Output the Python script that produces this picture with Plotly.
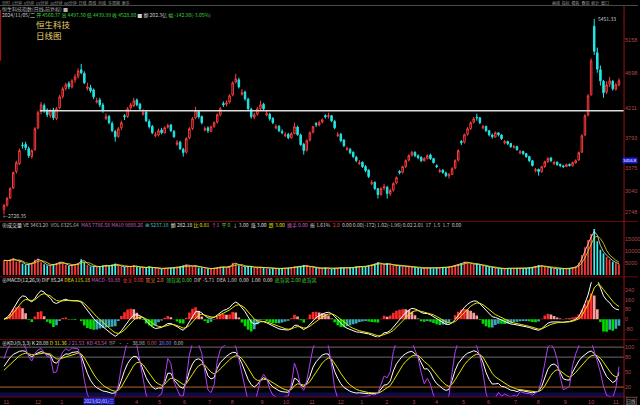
import plotly.graph_objects as go

# ---------------- data (~2.5 trading days per bar) ----------------
opens = [2790, 2850, 2950, 3090, 3320, 3430, 3690, 3700, 3640, 3530,
         3625, 3930, 4160, 4240, 4180, 4100, 4180, 4060, 4210, 4370,
         4480, 4550, 4500, 4600, 4650, 4740, 4690, 4480, 4490, 4460,
         4290, 4320, 4250, 4060, 4090, 3990, 3880, 3810, 3930, 4100,
         4090, 4210, 4240, 4320, 4260, 4120, 4150, 4020, 3950, 3820,
         3830, 3900, 3860, 3940, 3970, 3880, 3700, 3730, 3630, 3590,
         3790, 3920, 4070, 4160, 4090, 3900, 3930, 3880, 3950, 4010,
         4110, 4270, 4260, 4290, 4390, 4570, 4600, 4400, 4430, 4330,
         4190, 4080, 4120, 4200, 4260, 4110, 4120, 4060, 3930, 3950,
         3880, 3820, 3840, 3790, 3850, 3940, 3830, 3700, 3620, 3760,
         3870, 3990, 3970, 4010, 4100, 4090, 4100, 4020, 3820, 3840,
         3760, 3630, 3630, 3590, 3520, 3430, 3450, 3390, 3340, 3150,
         3170, 3080, 3000, 3090, 3100, 3010, 3060, 3160, 3320, 3310,
         3390, 3480, 3550, 3590, 3540, 3520, 3470, 3500, 3550, 3500,
         3400, 3320, 3340, 3300, 3260, 3280, 3370, 3480, 3740, 3730,
         3840, 3920, 4010, 4080, 4070, 3930, 3950, 3890, 3830, 3800,
         3860, 3830, 3720, 3740, 3710, 3660, 3670, 3580, 3600, 3570,
         3530, 3470, 3330, 3350, 3320, 3390, 3460, 3510, 3430, 3450,
         3420, 3400, 3390, 3420, 3400, 3440, 3480, 3590, 3830, 4110,
         4390, 5350, 4980, 4740, 4580, 4430, 4540, 4580, 4470, 4530]

highs = [2868, 2965, 3100, 3320, 3470, 3640, 3730, 3735, 3670, 3630,
         3940, 4170, 4290, 4270, 4200, 4190, 4210, 4220, 4390, 4500,
         4560, 4580, 4610, 4680, 4760, 4823, 4720, 4560, 4530, 4480,
         4350, 4350, 4280, 4130, 4110, 4020, 3900, 3940, 4030, 4120,
         4220, 4280, 4350, 4340, 4280, 4190, 4170, 4050, 3970, 3870,
         3920, 3930, 3950, 3990, 3985, 3900, 3760, 3750, 3650, 3800,
         3940, 4080, 4224, 4180, 4100, 3950, 3950, 3960, 4020, 4130,
         4220, 4300, 4310, 4400, 4580, 4684, 4630, 4470, 4450, 4350,
         4210, 4140, 4220, 4308, 4280, 4170, 4140, 4080, 3980, 3970,
         3910, 3870, 3860, 3870, 4002, 3960, 3850, 3720, 3770, 3880,
         3960, 4010, 4030, 4060, 4120, 4141, 4110, 4040, 3870, 3860,
         3770, 3670, 3650, 3600, 3540, 3480, 3460, 3410, 3350, 3200,
         3180, 3090, 3100, 3150, 3120, 3080, 3170, 3250, 3340, 3400,
         3490, 3560, 3610, 3600, 3560, 3530, 3520, 3560, 3570, 3510,
         3420, 3360, 3350, 3320, 3300, 3380, 3490, 3630, 3760, 3850,
         3940, 4020, 4080, 4127, 4080, 3970, 3960, 3900, 3850, 3880,
         3870, 3840, 3760, 3750, 3720, 3690, 3680, 3620, 3610, 3580,
         3540, 3480, 3370, 3360, 3400, 3470, 3520, 3520, 3470, 3460,
         3430, 3410, 3430, 3430, 3460, 3490, 3600, 3840, 4120, 4400,
         4900, 5451.33, 5050, 4800, 4600, 4580, 4640, 4600, 4560, 4620]

lows = [2720.35, 2830, 2935, 3075, 3290, 3410, 3640, 3620, 3510, 3500,
        3610, 3910, 4120, 4140, 4080, 4070, 4040, 4040, 4190, 4340,
        4450, 4470, 4480, 4560, 4620, 4680, 4540, 4450, 4420, 4330,
        4270, 4220, 4140, 4040, 3980, 3870, 3737, 3790, 3900, 4040,
        4070, 4180, 4220, 4230, 4170, 4100, 4010, 3920, 3840, 3800,
        3810, 3840, 3850, 3920, 3870, 3790, 3680, 3620, 3528, 3570,
        3770, 3900, 4050, 4060, 3980, 3880, 3860, 3870, 3930, 3990,
        4090, 4220, 4230, 4270, 4370, 4550, 4480, 4380, 4310, 4170,
        4060, 4050, 4100, 4180, 4170, 4090, 4030, 3980, 3910, 3870,
        3840, 3800, 3770, 3780, 3840, 3820, 3680, 3556, 3600, 3740,
        3850, 3940, 3950, 3990, 4060, 4060, 4010, 3910, 3800, 3730,
        3660, 3610, 3560, 3510, 3450, 3410, 3370, 3310, 3230, 3130,
        3060, 2943, 2980, 3060, 2943, 2980, 3040, 3140, 3280, 3290,
        3370, 3460, 3530, 3520, 3490, 3450, 3460, 3490, 3480, 3430,
        3370, 3300, 3290, 3240, 3222, 3270, 3350, 3460, 3690, 3710,
        3820, 3900, 3990, 4030, 3980, 3910, 3870, 3810, 3780, 3790,
        3810, 3760, 3700, 3690, 3650, 3640, 3610, 3560, 3550, 3510,
        3450, 3390, 3310, 3263, 3300, 3370, 3440, 3450, 3410, 3400,
        3380, 3370, 3380, 3390, 3390, 3430, 3470, 3580, 3820, 4090,
        4380, 4950, 4700, 4520, 4350, 4400, 4500, 4450, 4450, 4510]

closes = [2845, 2943, 3082, 3305, 3444, 3612, 3681, 3653, 3542, 3612,
          3918, 4141, 4252, 4169, 4113, 4169, 4071, 4197, 4364, 4475,
          4531, 4503, 4587, 4642, 4726, 4698, 4559, 4503, 4447, 4364,
          4308, 4252, 4169, 4085, 4002, 3890, 3806, 3918, 4002, 4085,
          4197, 4252, 4308, 4252, 4197, 4141, 4029, 3946, 3862, 3834,
          3890, 3862, 3932, 3960, 3890, 3806, 3723, 3639, 3584, 3779,
          3918, 4057, 4169, 4085, 4002, 3918, 3890, 3946, 4002, 4113,
          4197, 4252, 4280, 4378, 4559, 4614, 4503, 4420, 4336, 4197,
          4085, 4113, 4197, 4252, 4197, 4127, 4057, 4002, 3946, 3890,
          3862, 3834, 3793, 3848, 3946, 3834, 3695, 3612, 3751, 3862,
          3946, 3974, 4002, 4043, 4085, 4099, 4029, 3932, 3834, 3751,
          3681, 3639, 3584, 3528, 3472, 3444, 3388, 3333, 3249, 3166,
          3082, 2999, 3082, 3110, 3013, 3054, 3152, 3235, 3305, 3388,
          3472, 3542, 3584, 3542, 3514, 3472, 3500, 3542, 3500, 3444,
          3388, 3333, 3305, 3263, 3277, 3360, 3472, 3612, 3723, 3834,
          3918, 4002, 4057, 4071, 4002, 3946, 3890, 3834, 3806, 3862,
          3834, 3779, 3737, 3709, 3667, 3667, 3625, 3598, 3570, 3528,
          3472, 3403, 3347, 3319, 3388, 3458, 3500, 3472, 3444, 3416,
          3403, 3388, 3416, 3403, 3444, 3472, 3584, 3820, 4099, 4378,
          4865, 5000, 4750, 4587, 4420, 4531, 4587, 4475, 4531, 4587]

volumes = [6200, 5800, 6500, 7000, 5600, 6000, 4800, 4200, 4600, 5200,
           6400, 6800, 5400, 4600, 4000, 4200, 4400, 5000, 5600, 5200,
           4400, 3800, 4200, 4600, 5000, 6600, 5400, 4200, 3600, 3800,
           3400, 3600, 4000, 4200, 3800, 4400, 4800, 4000, 3600, 3400,
           3800, 3600, 4200, 3400, 3200, 3000, 3400, 3600, 3200, 3000,
           2800, 2600, 3000, 2800, 3000, 3200, 3400, 3600, 4000, 4400,
           3800, 3600, 4000, 3200, 3000, 2800, 2600, 2800, 3000, 3200,
           3600, 3400, 3000, 3800, 5200, 4800, 4000, 3600, 3400, 3800,
           3600, 3000, 3200, 3400, 3000, 2800, 2600, 2800, 2600, 2800,
           3000, 2800, 3000, 3200, 3600, 3400, 3800, 4200, 3800, 3400,
           3200, 3000, 2800, 3000, 3200, 2800, 2600, 2800, 3000, 3200,
           3000, 2800, 3000, 3400, 3600, 3800, 3400, 3600, 4000, 4400,
           4800, 5400, 4600, 4200, 5000, 4400, 4000, 4200, 3800, 3600,
           3400, 3600, 3400, 3200, 3000, 2800, 3000, 3200, 3000, 2800,
           3000, 3200, 3400, 3200, 3600, 3800, 4200, 4600, 5000, 5600,
           5200, 4800, 4400, 4800, 4200, 3800, 3600, 3400, 3200, 3000,
           2800, 2600, 2800, 3000, 2800, 2600, 2800, 3000, 2800, 3000,
           3200, 3400, 3800, 4200, 3800, 3400, 3200, 3000, 2800, 2600,
           2800, 2600, 2800, 3000, 3200, 3600, 5200, 8400, 11500, 14500,
           17000, 19000, 14000, 10500, 9000, 7500, 6500, 5600, 5000, 4600]

month_pos = [0.8, 11, 18.7, 42.9, 50.3, 58.4, 66.5, 73.9, 83.5, 91.3, 99.7, 109,
             115.8, 123.9, 132.6, 140, 148.7, 156.8, 165.5, 172.9, 181.6, 190, 198]
month_labels = ["11", "12", "1", "4", "5", "6", "7", "8", "9", "10", "11", "12",
                "1", "2", "3", "4", "5", "6", "7", "8", "9", "10", "11"]
price_ticks = [5158, 4698, 4211, 3793, 3375, 3040, 2748]
vol_ticks = [5000, 10000, 15000]
macd_ticks = [320, 240, 160, 80, 0, -80]
kdj_ticks = [100, 80, 50, 20]
hline_price = 4169

# ---------------- derived indicators ----------------
n = len(closes)
xs = list(range(n))
highs = [max(h, o, c) for h, o, c in zip(highs, opens, closes)]
lows = [min(l, o, c) for l, o, c in zip(lows, opens, closes)]


def ema(seq, p):
    a = 2.0 / (p + 1)
    out, prev = [], seq[0]
    for v in seq:
        prev = a * v + (1 - a) * prev
        out.append(prev)
    return out


def sma(seq, p):
    out = []
    for i in range(len(seq)):
        w = seq[max(0, i - p + 1):i + 1]
        out.append(sum(w) / len(w))
    return out


dif = [a - b for a, b in zip(ema(closes, 5), ema(closes, 10))]
dea = ema(dif, 4)
macd = [2 * (a - b) for a, b in zip(dif, dea)]
macd_col = []
for i, m in enumerate(macd):
    prev = macd[i - 1] if i else 0
    if m >= 0:
        macd_col.append('#ff2a2a' if m >= prev else '#ff9c9c')
    else:
        macd_col.append('#00dd00' if m <= prev else '#3aa8b4')

K, D, J = [], [], []
k = d = 50.0
for i in range(n):
    hh = max(highs[max(0, i - 5):i + 1])
    ll = min(lows[max(0, i - 5):i + 1])
    rsv = (closes[i] - ll) / (hh - ll) * 100 if hh > ll else 50
    k = (rsv + 2 * k) / 3
    d = (k + 2 * d) / 3
    K.append(k); D.append(d); J.append(3 * k - 2 * d)

vol_col = ['#ff3c3c' if c >= o else '#3cf0f0' for o, c in zip(opens, closes)]
vma1 = sma(volumes, 2)
vma2 = sma(volumes, 4)

# ---------------- figure ----------------
W, H = 640, 405


def py(y):
    return 1 - y / H


fig = go.Figure()
fig.add_trace(go.Candlestick(
    x=xs, open=opens, high=highs, low=lows, close=closes, xaxis='x', yaxis='y',
    increasing=dict(line=dict(color='#ff3c3c', width=1), fillcolor='#000000'),
    decreasing=dict(line=dict(color='#22e6e6', width=1), fillcolor='#22e6e6'),
    whiskerwidth=0, hoverinfo='skip'))
fig.add_trace(go.Bar(x=xs, y=volumes, marker=dict(color=vol_col, line=dict(width=0)),
                     width=0.55, xaxis='x', yaxis='y2', hoverinfo='skip'))
fig.add_trace(go.Scatter(x=xs, y=vma1, mode='lines', line=dict(color='#e8e8e8', width=0.8),
                         xaxis='x', yaxis='y2', hoverinfo='skip'))
fig.add_trace(go.Scatter(x=xs, y=vma2, mode='lines', line=dict(color='#e8e800', width=0.8),
                         xaxis='x', yaxis='y2', hoverinfo='skip'))
fig.add_trace(go.Bar(x=xs, y=macd, marker=dict(color=macd_col, line=dict(width=0)),
                     width=0.85, xaxis='x', yaxis='y3', hoverinfo='skip'))
fig.add_trace(go.Scatter(x=xs, y=dif, mode='lines', line=dict(color='#ffffff', width=1),
                         xaxis='x', yaxis='y3', hoverinfo='skip'))
fig.add_trace(go.Scatter(x=xs, y=dea, mode='lines', line=dict(color='#e6e600', width=1),
                         xaxis='x', yaxis='y3', hoverinfo='skip'))
fig.add_trace(go.Scatter(x=xs, y=K, mode='lines', line=dict(color='#ffffff', width=1),
                         xaxis='x', yaxis='y4', hoverinfo='skip'))
fig.add_trace(go.Scatter(x=xs, y=D, mode='lines', line=dict(color='#e6e600', width=1),
                         xaxis='x', yaxis='y4', hoverinfo='skip'))
fig.add_trace(go.Scatter(x=xs, y=J, mode='lines', line=dict(color='#b040f0', width=1),
                         xaxis='x', yaxis='y4', hoverinfo='skip'))

TFONT = 'Liberation Sans'
tickfont = dict(size=5.5, color='#b04848', family=TFONT)
yax = dict(side='right', anchor='x', showgrid=False, zeroline=False, showline=False,
           ticks='', tickfont=tickfont, fixedrange=True)

fig.update_layout(
    width=W, height=H, margin=dict(l=0, r=0, t=0, b=0),
    paper_bgcolor='#000000', plot_bgcolor='#000000', showlegend=False, hovermode=False,
    xaxis=dict(domain=[0, 626 / W], range=[-1.29, 200.65], anchor='y4', showgrid=False,
               zeroline=False, showline=False, ticks='', tickvals=month_pos,
               ticktext=month_labels, tickfont=tickfont, rangeslider=dict(visible=False),
               fixedrange=True),
    yaxis=dict(domain=[py(219), py(8)], range=[2650.4, 5589.9], tickvals=price_ticks,
               ticktext=[str(v) for v in price_ticks], **yax),
    yaxis2=dict(domain=[py(275), py(226)], range=[0, 20090], tickvals=vol_ticks,
                ticktext=[str(v) for v in vol_ticks], **yax),
    yaxis3=dict(domain=[py(337), py(282)], range=[-148.5, 305.3], tickvals=macd_ticks,
                ticktext=[str(v) for v in macd_ticks], **yax),
    yaxis4=dict(domain=[py(397), py(345)], range=[0, 104], tickvals=kdj_ticks,
                ticktext=[str(v) for v in kdj_ticks], **yax),
)

shapes = []
shapes.append(dict(type='rect', xref='x domain', yref='y4', x0=0, x1=1, y0=0, y1=9,
                   fillcolor='#0c0c48', line=dict(width=0), layer='below'))
for lv, col in [(100, '#6a6a6a'), (80, '#6a6a6a'), (20, '#b8642a')]:
    shapes.append(dict(type='line', xref='x domain', yref='y4', x0=0, x1=1, y0=lv, y1=lv,
                       line=dict(color=col, width=1), layer='below'))
shapes.append(dict(type='line', xref='x', yref='y', x0=11.6, x1=200.65, y0=hline_price,
                   y1=hline_price, line=dict(color='#dcdcdc', width=1.5)))
shapes.append(dict(type='line', xref='paper', yref='paper', x0=0, x1=1, y0=py(4.5), y1=py(4.5),
                   line=dict(color='#4a4a4a', width=1)))
for yy in [221, 276.5, 339.5, 397]:
    shapes.append(dict(type='line', xref='paper', yref='paper', x0=0, x1=1, y0=py(yy),
                       y1=py(yy), line=dict(color='#6e0808', width=1)))
shapes.append(dict(type='line', xref='paper', yref='paper', x0=626 / W, x1=626 / W,
                   y0=0, y1=py(4.5), line=dict(color='#9a1414', width=1)))
shapes.append(dict(type='line', xref='paper', yref='paper', x0=0.6 / W, x1=0.6 / W,
                   y0=py(60), y1=py(9), line=dict(color='#a01818', width=1.2)))
fig.update_layout(shapes=shapes)

FONT = 'Noto Sans CJK SC, DejaVu Sans'
ann = []


def txt(x, y, s, color='#c0c0c0', size=5, xa='left', family=FONT, **kw):
    d = dict(x=x / W, y=py(y), xref='paper', yref='paper', text=s, showarrow=False,
             xanchor=xa, yanchor='middle', borderpad=0, align='left',
             font=dict(size=size, color=color, family=family))
    d.update(kw)
    ann.append(d)


def sp(c, s):
    return "<span style='color:%s'>%s</span>" % (c, s)


txt(1, 2, '分时  1分钟  5分钟  15分钟  30分钟  60分钟  日线  周线  月线  多周期  更多', '#9a9a9a', 4)
txt(553, 2, '画线  指标  模板  叠加  统计  窗口', '#9a9a9a', 4)
txt(1, 7.6, '恒生科技指数(日线,前复权) ■', '#b4b4b4', 5)
txt(1, 14, sp('#d0d0d0', '2024/11/05/二') + ' ' +
    sp('#3ed23e', '开 4560.37 高 4497.30 低 4439.99 收 4528.80') + ' ' +
    sp('#d0d0d0', '■ 额 202.3亿') + ' ' + sp('#3ed23e', '幅 -142.90(-3.05%)'), size=5)
txt(35, 29, '恒生科技<br>日线图', '#e2d36a', 8.5)

txt(599, 18, '5451.33', '#c8c8c8', 5)
txt(2, 215, '←2720.35', '#c8c8c8', 5)
txt(639.5, 160, '3456.8', '#ffffff', 4.3, xa='right', family=TFONT, bgcolor='#1c1cd0')

txt(1, 224.5, sp('#e0e0e0', '⊕成交量') + ' ' + sp('#bdbdbd', 'VE 3463.20') + '  ' +
    sp('#a8a8a8', 'VOL 6325.64') + '  ' + sp('#c060c0', 'MA5 7786.58 MA10 9880.26') + '  ' +
    sp('#40c0c0', '⊞ 5237.18') + '  ' + sp('#e0e0e0', '额 282.18') + ' ' +
    sp('#e0e000', '比 0.81') + '  ' + sp('#e060e0', '↑1') + '  ' + sp('#60c060', '平 0') +
    '  ' + sp('#d0d0d0', '↓ 3.00') + '  ' + sp('#e0e0e0', '涨 3.00') + '  ' +
    sp('#e0e000', '跌 3.00') + '  ' + sp('#c060c0', '换手 0.00') + '  ' +
    sp('#d0d0d0', '振 1.61%') + '  ' + sp('#e04040', '2.0') + '  ' +
    sp('#c0c0c0', '0.00 0.00(-172) 1.02(-1.96) 0.02 2.01') + '  ' +
    sp('#c0c0c0', '17  1.5  1.7  0.00'), size=5)
txt(1, 279.5, sp('#e0e0e0', '⊕MACD(12,26,9)') + ' ' + sp('#e0e0e0', 'DIF 85.24') + ' ' +
    sp('#e0e000', 'DEA 115.18') + ' ' + sp('#c060c0', 'MACD -59.88') + '  ' +
    sp('#e04040', '金叉 0.00') + '  ' + sp('#e08040', '死叉 2.0') + '  ' +
    sp('#40d040', '顶背离 0.00') + '  ' + sp('#d0d0d0', 'DIF -5.71  DEA 1.00') + '  ' +
    sp('#e0e0e0', '0.00  1.00  0.00') + '  ' + sp('#40d040', '底背离 2.00 底背离'), size=5)
txt(1, 342.5, sp('#e0e0e0', '⊕KDJ(9,3,3)') + ' ' + sp('#e0e0e0', 'K 28.08') + ' ' +
    sp('#e0e000', 'D 31.36') + ' ' + sp('#c060c0', 'J 21.53') + '  ' +
    sp('#c060c0', 'KD 43.54') + '  ' + sp('#808080', 'BP  ·  ·') + '  ' +
    sp('#c0c0c0', '38.98') + '  ' + sp('#c06060', '0.00') + '  ' +
    sp('#8080ff', '20.00') + '  ' + sp('#c0c0c0', '0.00'), size=5)

txt(83, 400.8, '2023/02/01/三', '#d8d8ff', 4.5, bgcolor='#2020b8')
txt(633, 400.8, '日线', '#c8c8c8', 4.5, xa='center', bordercolor='#707070', borderwidth=0.5)

fig.update_layout(annotations=ann)
fig.write_html('out.html',
               config={'displayModeBar': False, 'staticPlot': True},
               post_script="document.body.style.margin='0';document.body.style.padding='0';"
                           "document.body.style.overflow='hidden';"
                           "document.body.style.background='#000';")
